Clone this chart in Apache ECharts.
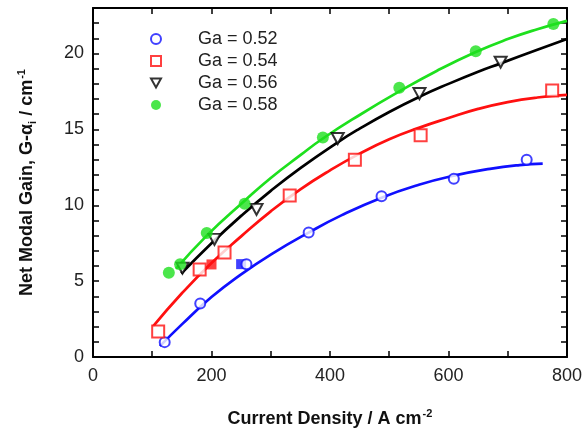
<!DOCTYPE html>
<html><head><meta charset="utf-8">
<script src="https://cdn.jsdelivr.net/npm/echarts@6/dist/echarts.min.js"></script>
<style>html,body{margin:0;padding:0;background:#fff}#c{width:585px;height:433px}</style>
</head><body><div id="c"></div>
<script>
// Measured data points
const ga52 = [[121,0.98],[181,3.52],[259,6.12],[364,8.2],[487,10.6],[609,11.74],[732,13.0]];
const ga54 = [[110,1.68],[180,5.77],[222,6.88],[332,10.64],[442,13.0],[553,14.62],[775,17.57]];
const ga56 = [[151,5.85],[205,7.75],[276,9.73],[413,14.4],[551,17.36],[688,19.43]];
const ga58 = [[128,5.55],[147,6.12],[192,8.17],[256,10.1],[388,14.47],[517,17.75],[646,20.15],[777,21.95]];
const filled52 = [[250,6.12]];
const filled54 = [[200,6.1]];
// Fitted curves
const fit52 = [[113,0.72],[150,2.15],[200,3.95],[250,5.45],[300,6.75],[364,8.2],[420,9.35],[487,10.5],[550,11.35],[609,11.95],[670,12.4],[720,12.65],[759,12.75]];
const fit54 = [[101,2.0],[150,4.2],[200,6.2],[250,7.95],[300,9.6],[350,11.05],[400,12.3],[450,13.4],[500,14.35],[550,15.1],[600,15.75],[650,16.35],[700,16.8],[750,17.1],[800,17.27]];
const fit56 = [[149,5.5],[200,7.5],[250,9.3],[300,10.95],[350,12.45],[413,14.15],[450,15.05],[500,16.15],[551,17.15],[600,18.0],[650,18.8],[688,19.35],[750,20.25],[800,20.96]];
const fit58 = [[140,5.8],[192,8.0],[256,10.3],[300,11.8],[350,13.3],[388,14.4],[450,15.95],[517,17.5],[580,18.85],[646,20.1],[700,20.95],[750,21.6],[800,22.15]];
const seriesNames = ['Ga = 0.52','Ga = 0.54','Ga = 0.56','Ga = 0.58'];
const xTickLabels = [0,200,400,600,800];
const yTickLabels = [0,5,10,15,20];

const BLUE='#1010ff', RED='#ff1010', BLACK='#000', GREEN='#1ee01e';
const FONT='Liberation Sans, Arial, sans-serif';
const chart = echarts.init(document.getElementById('c'));
const tri = 'path://M0,0 L10,0 L5,9 Z';
const axisBase = () => ({
  axisLine:{onZero:false,lineStyle:{color:'#000',width:2}},
  axisTick:{inside:true,length:6,lineStyle:{color:'#000',width:1.5}},
  splitLine:{show:false}
});
const fitLine = (name,data,color)=>({name,type:'line',data,smooth:0.5,showSymbol:false,symbol:'none',
  lineStyle:{color,width:2.7},z:1,silent:true});
const rich = {
  b:{fontFamily:FONT,fontSize:18,fontWeight:'bold',color:'#111',lineHeight:22},
  s:{fontFamily:FONT,fontSize:11,fontWeight:'bold',color:'#111',verticalAlign:'bottom',lineHeight:22,padding:[8,0,0,0]},
  p:{fontFamily:FONT,fontSize:11,fontWeight:'bold',color:'#111',verticalAlign:'top',lineHeight:22,padding:[0,0,8,1]}
};
chart.setOption({
  animation:false,
  grid:{left:93,right:17,top:8,bottom:74},
  legend:{orient:'vertical',left:145,top:25,itemWidth:10,itemHeight:10,itemGap:4,
    data:seriesNames,
    textStyle:{fontFamily:FONT,fontSize:18,color:'#222',padding:[0,0,0,32]}},
  xAxis:[
    Object.assign({type:'value',min:0,max:800,interval:100,position:'bottom',
      axisLabel:{fontFamily:FONT,fontSize:18,color:'#222',margin:10,
        formatter:v=>xTickLabels.includes(v)?String(v):''},
      name:'{b|Current Density / A cm}{p|-2}',nameLocation:'middle',nameGap:51,
      nameTextStyle:{rich}
    },axisBase()),
    Object.assign({type:'value',min:0,max:800,interval:100,position:'top',axisLabel:{show:false}},axisBase())
  ],
  yAxis:[
    Object.assign({type:'value',min:0,max:23,interval:1,position:'left',
      axisLabel:{fontFamily:FONT,fontSize:18,color:'#222',margin:9,
        formatter:v=>yTickLabels.includes(v)?String(v):''},
      name:'{b|Net Modal Gain, G-α}{s|i}{b| / cm}{p|-1}',nameLocation:'middle',nameGap:55,
      nameTextStyle:{rich}
    },axisBase()),
    Object.assign({type:'value',min:0,max:23,interval:1,position:'right',axisLabel:{show:false}},axisBase())
  ],
  series:[
    {name:seriesNames[0],type:'scatter',data:ga52,symbol:'circle',symbolSize:10,
      itemStyle:{color:'#fff',borderColor:BLUE,borderWidth:2},z:3},
    {name:seriesNames[1],type:'scatter',data:ga54,symbol:'rect',symbolSize:12,
      itemStyle:{color:'#fff',borderColor:RED,borderWidth:2},z:3},
    {name:seriesNames[2],type:'scatter',data:ga56,symbol:tri,symbolSize:[12,11],
      itemStyle:{color:'#fff',borderColor:BLACK,borderWidth:2},z:3},
    {name:seriesNames[3],type:'scatter',data:ga58,symbol:'circle',symbolSize:12,
      itemStyle:{color:GREEN},z:3},
    {name:'filled52',type:'scatter',data:filled52,symbol:'rect',symbolSize:10,itemStyle:{color:BLUE},z:2},
    {name:'filled54',type:'scatter',data:filled54,symbol:'rect',symbolSize:10,itemStyle:{color:RED},z:2},
    fitLine('fit52',fit52,BLUE),
    fitLine('fit54',fit54,RED),
    fitLine('fit56',fit56,BLACK),
    fitLine('fit58',fit58,GREEN)
  ]
});
</script></body></html>
